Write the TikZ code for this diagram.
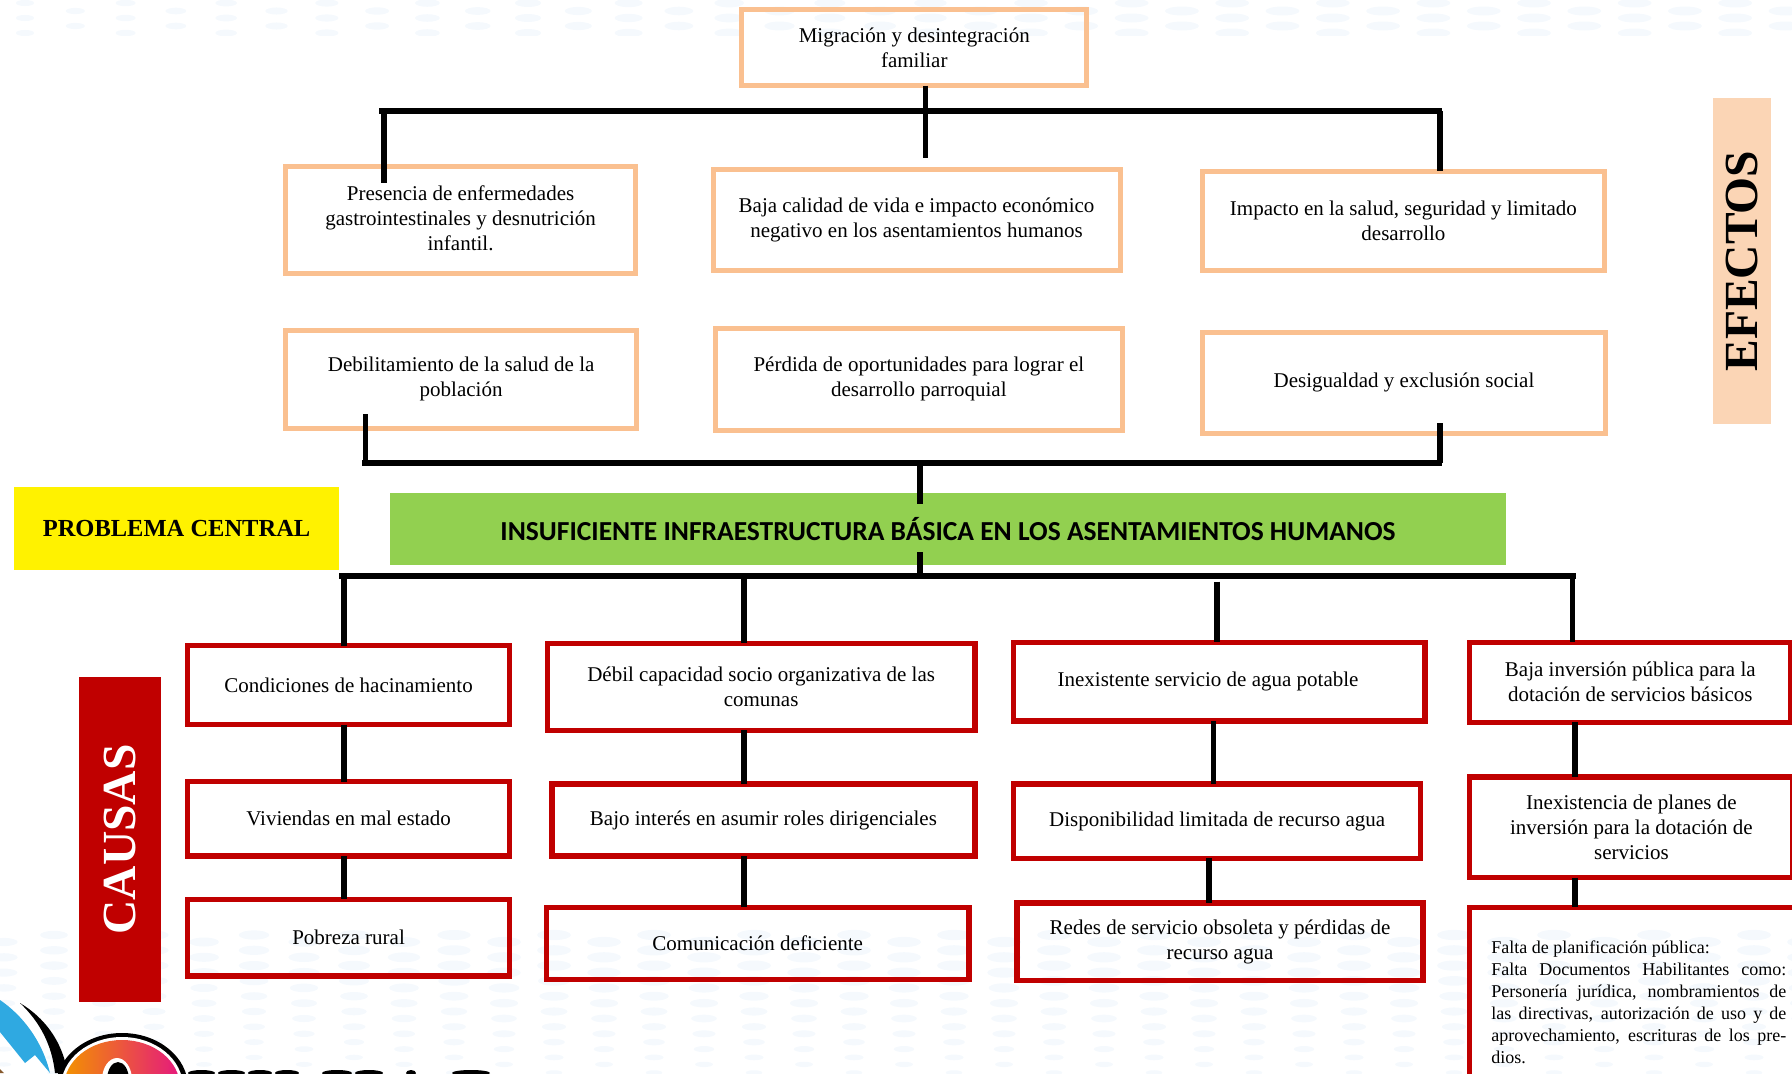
\documentclass[tikz,border=0pt]{standalone}
\usepackage{fontspec}
\setmainfont{Liberation Serif}
\newfontfamily\calib{Carlito}
\definecolor{peach}{HTML}{FAC090}
\definecolor{redbox}{HTML}{C00000}
\definecolor{softpeach}{HTML}{FBD5B5}
\definecolor{greenbar}{HTML}{92D050}
\definecolor{dotcol}{HTML}{F5F9FD}
\definecolor{logoblue}{HTML}{2FA9E1}
\definecolor{logoor}{HTML}{F39200}
\definecolor{logomid}{HTML}{EE7B55}
\definecolor{logopk}{HTML}{E5197D}
\tikzset{
  boxbase/.style={rectangle,inner sep=0pt,outer sep=0pt,align=center,font=\fontsize{21}{25}\selectfont},
  peachbox/.style={boxbase,draw=peach,line width=5pt},
  redcell/.style={boxbase,draw=redbox,line width=5.5pt},
  greenband/.style={boxbase,fill=greenbar,font=\calib\bfseries\fontsize{27.5}{32}\selectfont},
  yellowband/.style={boxbase,fill=yellow,font=\bfseries\fontsize{24.5}{28}\selectfont},
  causeband/.style={boxbase,fill=redbox,text=white,font=\bfseries\fontsize{47.5}{50}\selectfont},
  effectband/.style={boxbase,fill=softpeach,font=\bfseries\fontsize{47.5}{50}\selectfont},
  bar/.style={draw=black,line width=5.5pt,line cap=butt},
  hbar/.style={draw=black,line width=6pt,line cap=butt},
  pagespace/.style={x=1.142857pt,y=-1.142857pt},
  pixelspace/.style={x=1pt,y=-1pt}
}
\newcommand{\bx}[7]{%
  \pgfmathsetlengthmacro{\bxw}{(#5-#3)*1.142857}%
  \pgfmathsetlengthmacro{\bxh}{(#6-#4)*1.142857}%
  \node[#1,minimum width=\bxw,minimum height=\bxh] (#2) at ({(#3+#5)/2},{(#4+#6)/2}) {#7};%
}
\begin{document}
\begin{tikzpicture}[pagespace]
\useasboundingbox (0,0) rectangle (1568,939);
% pale dotted bands
\begin{scope}[pixelspace]
  \begin{scope}
    \clip (0,0) rectangle (1792,35);
    \foreach \k in {0,...,35}{
      \pgfmathsetmacro{\cx}{25+50.3*\k}
      \pgfmathsetmacro{\odd}{mod(\k,2)}
      \pgfmathsetmacro{\wd}{9+8*min(1,\cx/1000)}
      \pgfmathsetmacro{\ht}{3+1.5*min(1,\cx/800)}
      \ifdim\odd pt=0pt
        \foreach \yy in {3,18,33}{\fill[dotcol] (\cx,\yy) ellipse [x radius=\wd pt,y radius=\ht pt];}
      \else
        \foreach \yy in {11,26}{\fill[dotcol] (\cx,\yy) ellipse [x radius=\wd pt,y radius=\ht pt];}
      \fi
    }
  \end{scope}
  \foreach \k in {0,...,36}{
    \pgfmathsetmacro{\cx}{4+50*\k}
    \pgfmathsetmacro{\odd}{mod(\k,2)}
    \pgfmathsetmacro{\ys}{\odd>0.5 ? 935 : 942}
    \pgfmathsetmacro{\fx}{0.8+0.2*min(1,\cx/500)}
    \foreach \n in {0,...,9}{
      \pgfmathsetmacro{\cy}{\ys+15.3*\n}
      \pgfmathsetmacro{\wd}{(17-max(0,\cy-970)*0.085)*\fx}
      \pgfmathsetmacro{\ht}{\wd*0.3}
      \fill[dotcol] (\cx,\cy) ellipse [x radius=\wd pt,y radius=\ht pt];
    }
  }
  % logo, cut off by the lower edge
  \fill[logoblue] (0,1000) .. controls (22,1015) and (42,1040) .. (50,1073) -- (35,1055) -- (25,1063) -- (0,1032) -- cycle;
  \fill[black] (20,1003) .. controls (45,1018) and (60,1040) .. (66,1065) -- (60,1073) -- (55,1073) .. controls (52,1045) and (40,1022) .. (20,1003) -- cycle;
  \fill[black] (122,1087) ellipse [x radius=66pt,y radius=54pt];
  \fill[white] (122,1087) ellipse [x radius=61pt,y radius=50pt];
  \shade[left color=logoor,middle color=logomid,right color=logopk] (122,1087) ellipse [x radius=58pt,y radius=47pt];
  \fill[white] (117,1080) ellipse [x radius=15pt,y radius=22pt];
  \fill[black] (118,1080) ellipse [x radius=11pt,y radius=18pt];
  \fill[brown!70!black] (0,1069) -- (4,1073) -- (0,1073) -- cycle;
  \foreach \a/\b in {188/215,218/245,248/272,275/299,322/352,355/383,406/416,452/490}{
    \fill[black] ({(\a+\b)/2},1073) ellipse [x radius={(\b-\a)/2*1pt},y radius=3pt];
  }
\end{scope}
% filled bands
\bx{greenband}{central}{341}{431}{1318}{494}{INSUFICIENTE INFRAESTRUCTURA BÁSICA EN LOS ASENTAMIENTOS HUMANOS}
\bx{yellowband}{prob}{12}{426}{297}{499}{PROBLEMA CENTRAL}
\bx{causeband}{causas}{69}{592}{141}{877}{\rotatebox{90}{CAUSAS}}
\bx{effectband}{efectos}{1499}{86}{1550}{371}{\rotatebox{90}{EFECTOS}}
% effects
\bx{peachbox}{top}{649}{8}{951}{75}{Migración y desintegración\\familiar}
\bx{peachbox}{ea}{250}{146}{556}{239}{\raisebox{3.4pt}{\begin{tabular}{@{}c@{}}Presencia de enfermedades\\gastrointestinales y desnutrición\\infantil.\end{tabular}}}
\bx{peachbox}{eb}{624}{148}{980}{237}{Baja calidad de vida e impacto económico\\negativo en los asentamientos humanos}
\bx{peachbox}{ec}{1052}{150}{1404}{237}{Impacto en la salud, seguridad y limitado\\desarrollo}
\bx{peachbox}{ed}{250}{289}{557}{375}{Debilitamiento de la salud de la\\población}
\bx{peachbox}{ee}{626}{287}{982}{377}{Pérdida de oportunidades para lograr el\\desarrollo parroquial}
\bx{peachbox}{ef}{1052}{291}{1405}{379}{Desigualdad y exclusión social}
% causes
\bx{redcell}{ca}{164}{565}{446}{634}{Condiciones de hacinamiento}
\bx{redcell}{cb}{164}{684}{446}{749}{Viviendas en mal estado}
\bx{redcell}{cc}{164}{787}{446}{854}{Pobreza rural}
\bx{redcell}{da}{479}{563}{853}{639}{Débil capacidad socio organizativa de las\\comunas}
\bx{redcell}{db}{483}{686}{853}{749}{Bajo interés en asumir roles dirigenciales}
\bx{redcell}{dc}{478}{794}{848}{857}{Comunicación deficiente}
\bx{redcell}{fa}{887}{562}{1247}{631}{\raisebox{5.7pt}{\kern-22.8pt Inexistente servicio de agua potable}}
\bx{redcell}{fb}{887}{686}{1243}{751}{Disponibilidad limitada de recurso agua}
\bx{redcell}{fc}{890}{790}{1245}{858}{Redes de servicio obsoleta y pérdidas de\\recurso agua}
\bx{redcell}{ga}{1286}{562}{1567}{632}{Baja inversión pública para la\\dotación de servicios básicos}
\bx{redcell}{gb}{1286}{680}{1569}{768}{Inexistencia de planes de\\inversión para la dotación de\\servicios}
\bx{redcell}{gc}{1286}{794}{1582}{960}{\parbox{295pt}{\fontsize{18}{22}\selectfont\tolerance=9000\emergencystretch=30pt Falta de planificación pública:\\ Falta Documentos Habilitantes como: Personería jurídica, nombramientos de las directivas, autorización de uso y de aprovechamiento, escrituras de los predios.}}
% junction points
\coordinate (busAl) at (332,97);
\coordinate (busAr) at (1262,97);
\coordinate (ja) at (336,97);
\coordinate (jb) at (810,97);
\coordinate (jc) at (1260,97);
\coordinate (ka) at (336,160);
\coordinate (kb) at (810,138);
\coordinate (busBl) at (317,405);
\coordinate (busBr) at (1262,405);
\coordinate (jd) at (320,405);
\coordinate (je) at (805,405);
\coordinate (jf) at (1260,405);
\coordinate (kd) at (320,362);
\coordinate (ke) at (805,441);
\coordinate (kf) at (1260,370);
\coordinate (busCl) at (297,504);
\coordinate (busCr) at (1379,504);
\coordinate (jm) at (805,507);
\coordinate (km) at (805,483);
\coordinate (c1) at (301,504);
\coordinate (c2) at (651,504);
\coordinate (c3) at (1065,509);
\coordinate (c3b) at (1062,509);
\coordinate (c3c) at (1058,509);
\coordinate (c4) at (1376,504);
\coordinate (c4b) at (1378,504);
% connectors
\draw[hbar] (busAl) -- (busAr);
\draw[bar] (ja) -- (ka);
\draw[bar] (top.south -| jb) -- (kb);
\draw[bar] (jc) -- (jc |- ec.north);
\draw[hbar] (busBl) -- (busBr);
\draw[bar] (jd) -- (kd);
\draw[bar] (je) -- (ke);
\draw[bar] (jf) -- (kf);
\draw[hbar] (busCl) -- (busCr);
\draw[bar] (km) -- (jm);
\draw[bar] (c1) -- (c1 |- ca.north);
\draw[bar] (c2) -- (c2 |- da.north);
\draw[bar] (c3) -- (c3 |- fa.north);
\draw[bar] (c4) -- (c4 |- ga.north);
\draw[bar] (c1 |- ca.south) -- (c1 |- cb.north);
\draw[bar] (c1 |- cb.south) -- (c1 |- cc.north);
\draw[bar] (c2 |- da.south) -- (c2 |- db.north);
\draw[bar] (c2 |- db.south) -- (c2 |- dc.north);
\draw[bar] (c3b |- fa.south) -- (c3b |- fb.north);
\draw[bar] (c3c |- fb.south) -- (c3c |- fc.north);
\draw[bar] (c4b |- ga.south) -- (c4b |- gb.north);
\draw[bar] (c4b |- gb.south) -- (c4b |- gc.north);
\end{tikzpicture}
\end{document}
